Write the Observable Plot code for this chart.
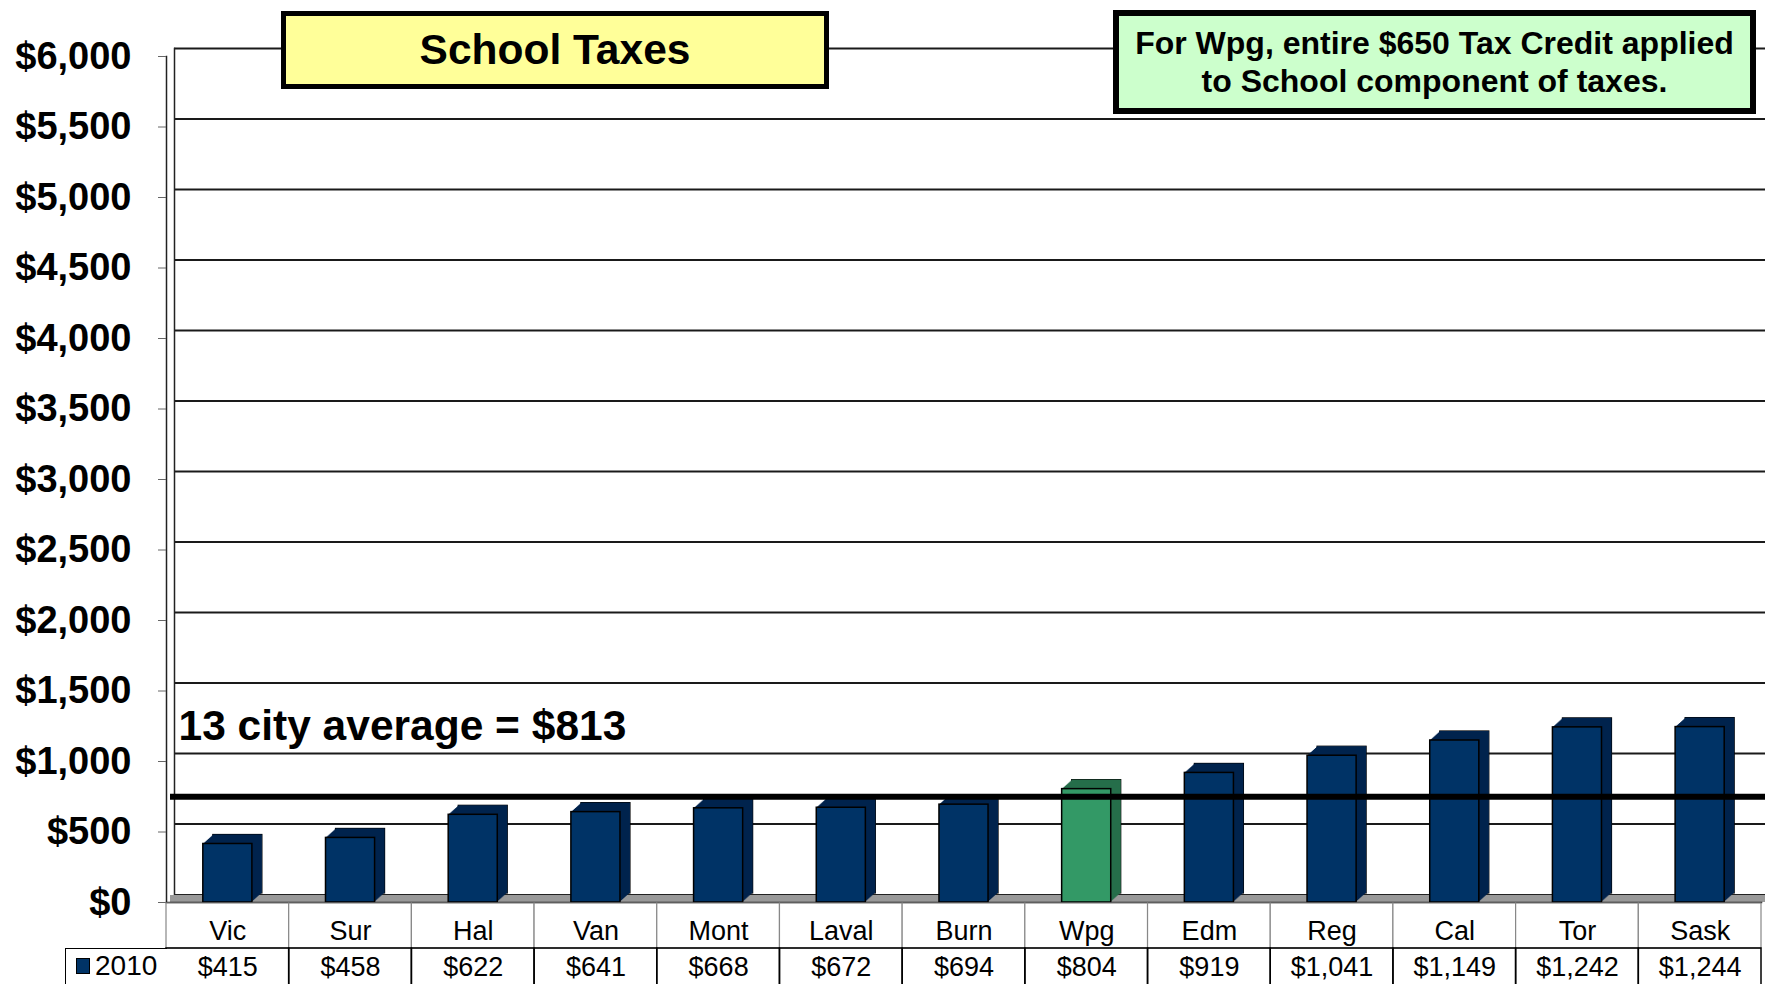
<!DOCTYPE html>
<html><head><meta charset="utf-8">
<script src="https://cdn.jsdelivr.net/npm/d3@7"></script>
<script src="https://cdn.jsdelivr.net/npm/@observablehq/plot@0.6"></script>
<style>
html,body{margin:0;padding:0;background:#fff;width:1765px;height:984px;overflow:hidden;font-family:"Liberation Sans",Arial,sans-serif;}
#wrap{position:relative;width:1765px;height:984px;overflow:hidden;}
#chart,#table{position:absolute;left:0;}
#chart{top:0;}
#table{top:903px;}
.box{position:absolute;box-sizing:border-box;border:5px solid #000;font-weight:bold;text-align:center;display:flex;align-items:center;justify-content:center;color:#000;z-index:2;}
#title{left:281px;top:11px;width:548px;height:78px;background:#ffff99;font-size:42.5px;}
#note{left:1113px;top:10px;width:643px;height:104px;background:#ccffcc;font-size:32px;line-height:38px;border-width:6px;}
#legend{position:absolute;left:65px;top:948px;width:102px;height:40px;box-sizing:border-box;border-left:1.5px solid #000;border-top:1.5px solid #000;font-size:28px;display:flex;align-items:center;padding-left:10px;padding-bottom:6px;z-index:2;background:#fff;}
#legend .sw{display:inline-block;width:12px;height:14px;background:#003366;border:1px solid #000;margin-right:5px;}
</style>
</head><body>
<div id="wrap">
  <div id="chart"></div>
  <div id="table"></div>
  <div id="title" class="box"></div>
  <div id="note" class="box"></div>
  <div id="legend"><span class="sw"></span><span id="legendText"></span></div>
</div>
<script>
const cities = ["Vic","Sur","Hal","Van","Mont","Laval","Burn","Wpg","Edm","Reg","Cal","Tor","Sask"];
const taxes2010 = [415,458,622,641,668,672,694,804,919,1041,1149,1242,1244];
const highlightCity = "Wpg";
const yTicks = [0,500,1000,1500,2000,2500,3000,3500,4000,4500,5000,5500,6000];
const averageValue = 813;
const averageLineLevel = 750;
const seriesName = "2010";
const titleText = "School Taxes";
const noteLines = ["For Wpg, entire $650 Tax Credit applied", "to School component of taxes."];
const averageText = "13 city average = $" + averageValue;
const tableRows = ["name","value"];

const blueFront = "#003366", blueSide = "#00234d";
const greenFront = "#339966", greenSide = "#256e4a";

const fmt = d => "$" + d3.format(",")(d);
const data = cities.map((c,i) => ({city:c, value:taxes2010[i]}));

document.getElementById("title").textContent = titleText;
document.getElementById("note").innerHTML = noteLines.join("<br>");
document.getElementById("legendText").textContent = seriesName;

// extruded depth faces (3D look)
const depthSteps = [1,2,3,4,5,6,7,8,9,10];
const depthMarks = depthSteps.map(k => Plot.barY(data, {
  x:"city", y:"value",
  fill:d => d.city === highlightCity ? greenSide : blueSide,
  dx:k, dy:-0.9 * k
}));
const backOutline = Plot.barY(data, {x:"city", y:"value", fill:"none", stroke:"#000", strokeWidth:1.2, dx:10, dy:-9});

const chart = Plot.plot({
  width:1765, height:903,
  marginLeft:166, marginRight:4, marginTop:56, marginBottom:1,
  style:{fontFamily:"Liberation Sans, Arial, sans-serif", background:"transparent", overflow:"visible", color:"#000"},
  x:{domain:cities, paddingInner:0.6, paddingOuter:0.3, round:false, axis:null},
  y:{domain:[0,6000], axis:null},
  marks:[
    Plot.ruleY(yTicks.filter(d => d > 0), {stroke:"#1a1a1a", strokeWidth:2.2, dx:8, dy:-8}),
    Plot.frame({anchor:"left", stroke:"#222", strokeWidth:1.5, dx:8, dy:-8}),
    Plot.frame({anchor:"left", stroke:"#222", strokeWidth:1.5}),
    Plot.ruleY([0], {stroke:"#999", strokeWidth:7, dy:-4, dx:4}),
    Plot.ruleY([0], {stroke:"#222", strokeWidth:1, dy:-8, dx:8}),
    Plot.frame({anchor:"bottom", stroke:"#222", strokeWidth:1.5}),
    backOutline,
    ...depthMarks,
    Plot.barY(data, {x:"city", y:"value", fill:d => d.city === highlightCity ? greenFront : blueFront, stroke:"#000", strokeWidth:1.5}),
    Plot.ruleY([averageLineLevel], {stroke:"#000", strokeWidth:6, dx:4}),
    Plot.text([averageText], {text:d => d, y:[averageLineLevel], frameAnchor:"left", textAnchor:"start", dx:12, dy:-70, fontSize:42.5, fontWeight:"bold", fill:"#000"}),
    Plot.axisY({ticks:yTicks, tickFormat:fmt, tickSize:8, tickPadding:27, fontSize:38, fontWeight:"bold", label:null, stroke:"#666"})
  ]
});
document.getElementById("chart").appendChild(chart);

const cells = cities.flatMap((c,i) => [
  {city:c, row:"name", label:c},
  {city:c, row:"value", label:fmt(taxes2010[i])}
]);
const table = Plot.plot({
  width:1765, height:90,
  marginLeft:166, marginRight:4, marginTop:0, marginBottom:0,
  style:{fontFamily:"Liberation Sans, Arial, sans-serif", background:"transparent", overflow:"visible", color:"#000"},
  x:{domain:cities, padding:0, round:false, axis:null},
  y:{domain:tableRows, padding:0, round:false, axis:null},
  marks:[
    Plot.cell(cells.filter(d => d.row === "name"), {x:"city", y:"row", fill:"#fff", stroke:"#888", strokeWidth:1.2, inset:0}),
    Plot.cell(cells.filter(d => d.row === "value"), {x:"city", y:"row", fill:"none", stroke:"#000", strokeWidth:1.5, inset:0}),
    Plot.text(cells.filter(d => d.row === "name"), {x:"city", y:"row", text:"label", fontSize:27, dy:5, fill:"#000"}),
    Plot.text(cells.filter(d => d.row === "value"), {x:"city", y:"row", text:"label", fontSize:27, dy:-4, fill:"#000"})
  ]
});
document.getElementById("table").appendChild(table);
</script>
</body></html>
